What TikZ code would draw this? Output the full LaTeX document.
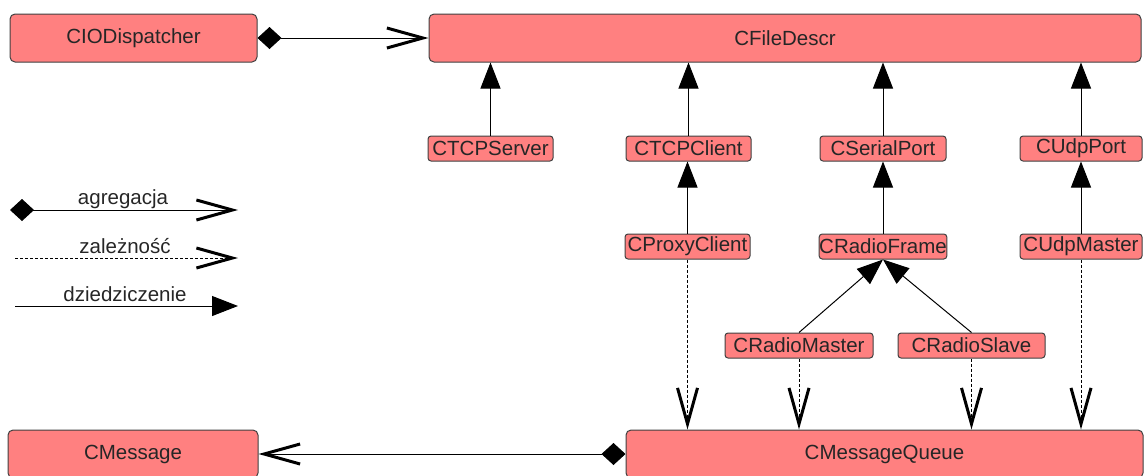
\documentclass[tikz,border=0pt]{standalone}
\usepackage{fontspec}
\setmainfont{Liberation Sans}
\usetikzlibrary{arrows.meta}
\definecolor{boxfill}{HTML}{FF8080}
\definecolor{boxline}{HTML}{404040}
\tikzset{
  cls/.style={draw=boxline, line width=1pt, fill=boxfill, rounded corners=5pt, inner sep=0pt, font=\fontsize{20.5}{22}\selectfont, text=black!85},
  bigcls/.style={cls, minimum height=48pt},
  smallcls/.style={cls, minimum height=25pt, rounded corners=3pt},
  inherit/.style={line width=1pt, -{Triangle[length=26pt, width=20pt]}},
  depend/.style={line width=1pt, dash pattern=on 3pt off 2pt, -{Straight Barb[length=36pt, width=20pt, line width=3pt]}},
  aggr/.style={line width=1pt, {Diamond[length=24pt, width=22pt]}-{Straight Barb[length=36pt, width=20pt, line width=3pt]}},
  lbl/.style={font=\fontsize{20.5}{22}\selectfont, inner sep=0pt, text=black!85}
}
\begin{document}
\begin{tikzpicture}[x=1pt, y=-1pt]
\clip (0,0) rectangle (1144,475);
% classes
\node[bigcls, minimum width=247pt] (disp) at (133.5,38) {CIODispatcher};
\node[bigcls, minimum width=712pt] (fd) at (785,38) {CFileDescr};
\node[smallcls, minimum width=125pt] (srv) at (490.5,148.5) {CTCPServer};
\node[smallcls, minimum width=125pt] (cli) at (688.5,148.5) {CTCPClient};
\node[smallcls, minimum width=126pt] (ser) at (883,148.5) {CSerialPort};
\node[smallcls, minimum width=122pt] (udp) at (1081,148.5) {CUdpPort};
\node[smallcls, minimum width=125pt] (prox) at (687.5,246.5) {CProxyClient};
\node[smallcls, minimum width=126pt] (rf) at (883,246.5) {CRadioFrame};
\node[smallcls, minimum width=122pt] (udpm) at (1081,246.5) {CUdpMaster};
\node[smallcls, minimum width=148pt] (rm) at (799,345.5) {CRadioMaster};
\node[smallcls, minimum width=147pt] (rs) at (971.5,345.5) {CRadioSlave};
\node[bigcls, minimum width=517pt] (mq) at (884.5,454) {CMessageQueue};
\node[bigcls, minimum width=250pt] (msg) at (133,454) {CMessage};
% aggregations
\draw[aggr] (disp.east) -- (fd.west);
\draw[aggr] (mq.west) -- (msg.east);
% inheritance
\draw[inherit] (srv.north) -- (srv.north |- fd.south);
\draw[inherit] (cli.north) -- (cli.north |- fd.south);
\draw[inherit] (ser.north) -- (ser.north |- fd.south);
\draw[inherit] (udp.north) -- (udp.north |- fd.south);
\draw[inherit] (prox.north) -- (prox.north |- cli.south);
\draw[inherit] (rf.north) -- (rf.north |- ser.south);
\draw[inherit] (udpm.north) -- (udpm.north |- udp.south);
\draw[inherit] (rm.north) -- (rf.south);
\draw[inherit] (rs.north) -- (rf.south);
% dependencies
\draw[depend] (prox.south) -- (prox.south |- mq.north);
\draw[depend] (rm.south) -- (rm.south |- mq.north);
\draw[depend] (rs.south) -- (rs.south |- mq.north);
\draw[depend] (udpm.south) -- (udpm.south |- mq.north);
% legend
\coordinate (la1) at (10,210);
\coordinate (la2) at (238,210);
\coordinate (ld1) at (15,258);
\coordinate (ld2) at (238,258);
\coordinate (li1) at (15,306);
\coordinate (li2) at (238,306);
\draw[aggr] (la1) -- (la2);
\draw[depend] (ld1) -- (ld2);
\draw[inherit] (li1) -- (li2);
\node[lbl, anchor=base] (ta) at (123,204) {agregacja};
\node[lbl, anchor=base] (td) at (125,253) {zależność};
\node[lbl, anchor=base] (ti) at (125,301) {dziedziczenie};
\end{tikzpicture}
\end{document}
